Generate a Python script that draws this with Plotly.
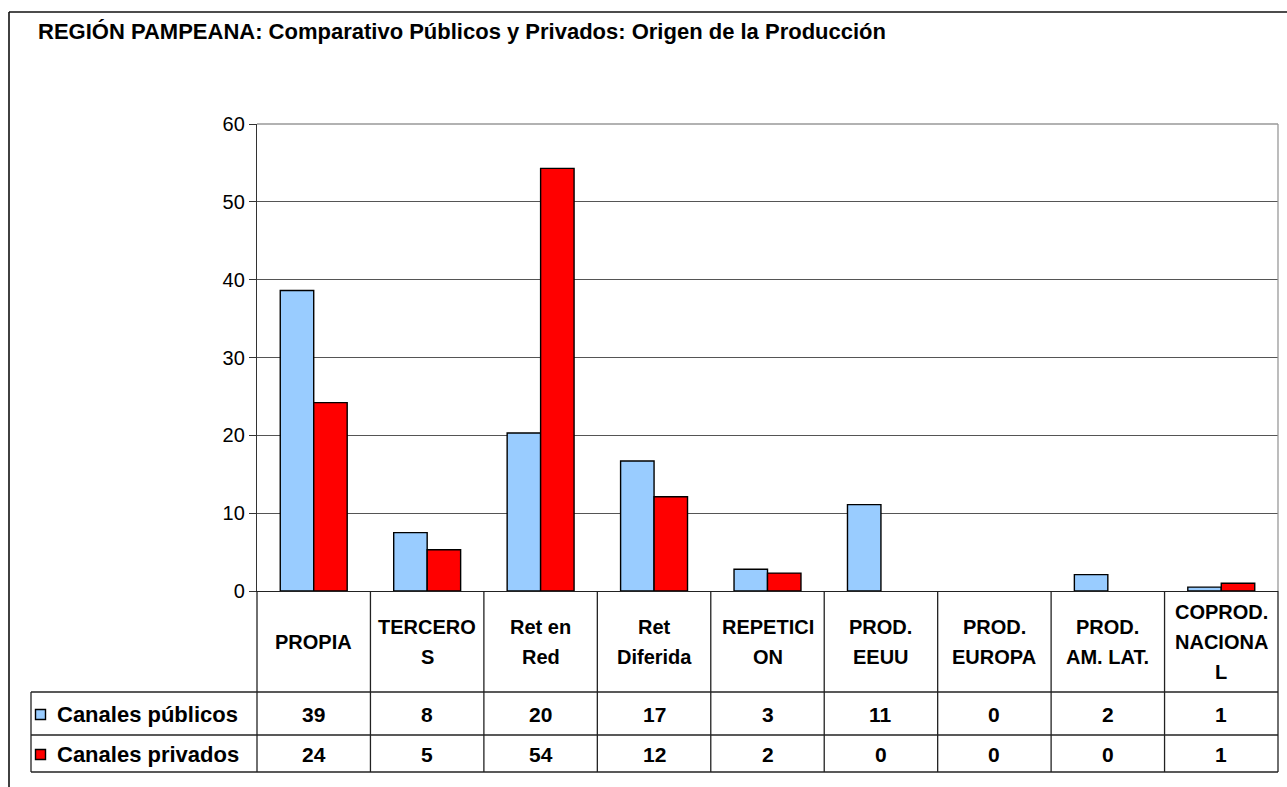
import math
import plotly.graph_objects as go

# ---------------- data ----------------
categories = ["PROPIA", "TERCERO\nS", "Ret en\nRed", "Ret\nDiferida", "REPETICI\nON",
              "PROD.\nEEUU", "PROD.\nEUROPA", "PROD.\nAM. LAT.", "COPROD.\nNACIONA\nL"]
publicos = [38.6, 7.5, 20.3, 16.7, 2.8, 11.1, 0.0, 2.1, 0.5]
privados = [24.2, 5.3, 54.3, 12.1, 2.3, 0.0, 0.0, 0.0, 1.0]
series_names = ["Canales públicos", "Canales privados"]
series_colors = ["#99CCFF", "#FF0000"]
title_text = "REGIÓN PAMPEANA: Comparativo Públicos y Privados: Origen de la Producción"
y_ticks = [0, 10, 20, 30, 40, 50, 60]

# ---------------- geometry (pixels) ----------------
W, H = 1287, 787
PL, PR, PT, PB = 257, 1278, 124, 591      # plot area
HEAD_BOT, ROW1_BOT, ROW2_BOT = 692, 735, 772
TABLE_LEFT = 31
FONT = "Liberation Sans, Arial, sans-serif"
TXT = 21


def px(xp):
    return (xp - PL) / (PR - PL)


def py(yp):
    return (PB - yp) / (PB - PT)


cat_ids = [c.replace("\n", " ") for c in categories]

fig = go.Figure()
for name, vals, col in zip(series_names, [publicos, privados], series_colors):
    fig.add_trace(go.Bar(
        x=cat_ids, y=vals, name=name,
        marker=dict(color=col,
                    line=dict(color="#000000", width=[1.4 if v > 0 else 0 for v in vals])),
        showlegend=False, hoverinfo="x+y"))

shapes = []
ann = []

def line(x0, y0, x1, y1, color="#222222", width=1.3):
    shapes.append(dict(type="line", xref="paper", yref="paper",
                       x0=px(x0), y0=py(y0), x1=px(x1), y1=py(y1),
                       line=dict(color=color, width=width)))

# outer chart border (top & left)
line(9, 12, W + 5, 12, color="#111111", width=1.6)
line(9, 12, 9, H + 5, color="#111111", width=1.6)
# plot area border top/right
line(PL, PT, PR, PT, color="#999999", width=1.3)
line(PR, PT, PR, PB, color="#999999", width=1.3)

# table lines
ncat = len(categories)
cw = (PR - PL) / ncat
for i in range(ncat + 1):
    xx = PL + i * cw
    line(xx, PB, xx, ROW2_BOT)
for yy in [HEAD_BOT, ROW1_BOT, ROW2_BOT]:
    line(TABLE_LEFT, yy, PR, yy)
line(TABLE_LEFT, HEAD_BOT, TABLE_LEFT, ROW2_BOT)

# category header labels (one annotation per line, Excel-like spacing)
head_mid = (PB + HEAD_BOT) / 2
for i, c in enumerate(categories):
    parts = c.split("\n")
    n = len(parts)
    for j, t in enumerate(parts):
        yc = head_mid + (j - (n - 1) / 2) * 30
        ann.append(dict(x=cat_ids[i], xref="x", y=py(yc), yref="paper",
                        text=t, showarrow=False, xanchor="center", yanchor="middle",
                        font=dict(family=FONT, size=TXT - 1, color="#000000", weight="bold")))

# value rows
row_mids = [(HEAD_BOT + ROW1_BOT) / 2 + 1, (ROW1_BOT + ROW2_BOT) / 2 + 1]
for vals, name, col, ym in zip([publicos, privados], series_names, series_colors, row_mids):
    for i, v in enumerate(vals):
        ann.append(dict(x=cat_ids[i], xref="x", y=py(ym), yref="paper",
                        text=str(int(math.floor(v + 0.5))), showarrow=False,
                        xanchor="center", yanchor="middle",
                        font=dict(family=FONT, size=TXT, color="#000000", weight="bold")))
    # legend key
    shapes.append(dict(type="rect", xref="paper", yref="paper",
                       x0=px(35.5), x1=px(45.5), y0=py(ym - 5), y1=py(ym + 5),
                       fillcolor=col, line=dict(color="#000000", width=1.4)))
    ann.append(dict(x=px(55), xref="paper", y=py(ym), yref="paper", text=name,
                    showarrow=False, xanchor="left", yanchor="middle",
                    font=dict(family=FONT, size=TXT + 1, color="#000000", weight="bold")))

fig.update_layout(
    width=W, height=H, autosize=False,
    margin=dict(l=PL, r=W - PR, t=PT, b=H - PB, pad=0),
    paper_bgcolor="#FFFFFF", plot_bgcolor="#FFFFFF",
    barmode="group", bargap=0.41, bargroupgap=0,
    title=dict(text=title_text, xref="container", yref="container",
               x=38 / W, y=1 - 31 / H, xanchor="left", yanchor="middle",
               font=dict(family=FONT, size=22, color="#000000", weight="bold")),
    xaxis=dict(type="category", showticklabels=False, showgrid=False, zeroline=False,
               showline=True, linecolor="#222222", linewidth=1.3, ticks="",
               fixedrange=True),
    yaxis=dict(range=[0, 60], tickvals=y_ticks, showgrid=True, gridcolor="#555555",
               gridwidth=1, zeroline=False, showline=True, linecolor="#333333",
               linewidth=1.3, ticks="outside", ticklen=7, tickcolor="#333333",
               tickfont=dict(family=FONT, size=20, color="#000000"),
               fixedrange=True),
    shapes=shapes, annotations=ann,
)

fig.write_html("out.html", config={"displayModeBar": False},
               post_script="document.body.style.margin='0';document.body.style.overflow='hidden';")
